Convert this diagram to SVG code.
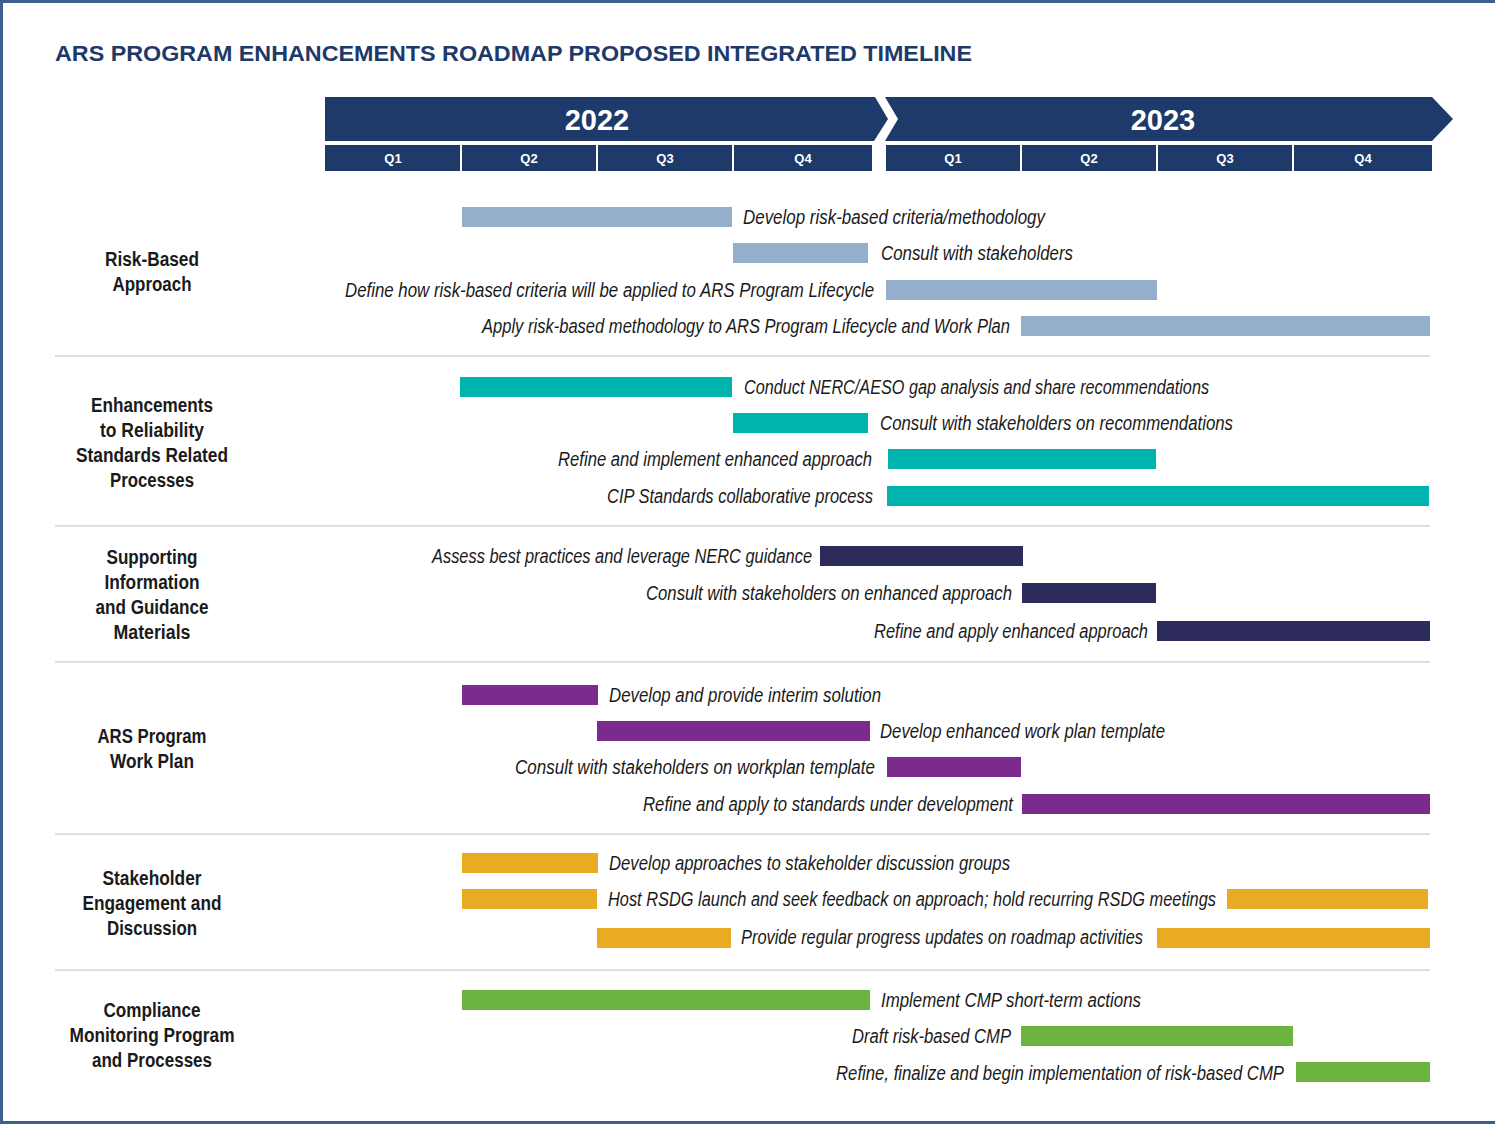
<svg xmlns="http://www.w3.org/2000/svg" width="1495" height="1125" viewBox="0 0 1495 1125">
<style>
.title{font-family:"Liberation Sans",Arial,sans-serif;font-weight:bold;font-size:22px;fill:#1D3A6B}
.yr{font-family:"Liberation Sans",Arial,sans-serif;font-weight:bold;font-size:29px;fill:#fff;text-anchor:middle}
.q{font-family:"Liberation Sans",Arial,sans-serif;font-weight:bold;font-size:13px;fill:#fff;text-anchor:middle}
.hd{fill:#1D3A6B}
.cat{font-family:"Liberation Sans",Arial,sans-serif;font-weight:bold;font-size:20px;fill:#1a1a1a;text-anchor:middle}
.lb{font-family:"Liberation Sans",Arial,sans-serif;font-style:italic;font-size:20px;fill:#1a1a1a}
.e{text-anchor:end}
.sep{stroke:#bdbdbd;stroke-width:1.2}
.c1{fill:#93AFCB}.c2{fill:#00B3AC}.c3{fill:#2D2A5C}.c4{fill:#7A2B8B}.c5{fill:#E9AB23}.c6{fill:#6CB43F}
</style>
<rect x="1.5" y="1.5" width="1500" height="1121" fill="#fff" stroke="#3B5F8F" stroke-width="3"/>
<text class="title" x="55" y="61" textLength="917" lengthAdjust="spacingAndGlyphs">ARS PROGRAM ENHANCEMENTS ROADMAP PROPOSED INTEGRATED TIMELINE</text>

<g id="header">
<polygon class="hd" points="325,97 875,97 888,119 874,141 325,141"/>
<polygon class="hd" points="885,97 1432,97 1453,119 1432,141 885,141 898,119"/>
<text class="yr" x="597" y="130">2022</text>
<text class="yr" x="1163" y="130">2023</text>
<rect class="hd" x="325" y="145" width="135" height="26"/>
<rect class="hd" x="462" y="145" width="134" height="26"/>
<rect class="hd" x="598" y="145" width="134" height="26"/>
<rect class="hd" x="734" y="145" width="138" height="26"/>
<rect class="hd" x="886" y="145" width="134" height="26"/>
<rect class="hd" x="1022" y="145" width="134" height="26"/>
<rect class="hd" x="1158" y="145" width="134" height="26"/>
<rect class="hd" x="1294" y="145" width="138" height="26"/>
<text class="q" x="393" y="163">Q1</text>
<text class="q" x="529" y="163">Q2</text>
<text class="q" x="665" y="163">Q3</text>
<text class="q" x="803" y="163">Q4</text>
<text class="q" x="953" y="163">Q1</text>
<text class="q" x="1089" y="163">Q2</text>
<text class="q" x="1225" y="163">Q3</text>
<text class="q" x="1363" y="163">Q4</text>
</g>

<g id="separators">
<line class="sep" x1="55" y1="356" x2="1430" y2="356"/>
<line class="sep" x1="55" y1="526" x2="1430" y2="526"/>
<line class="sep" x1="55" y1="662" x2="1430" y2="662"/>
<line class="sep" x1="55" y1="834" x2="1430" y2="834"/>
<line class="sep" x1="55" y1="970" x2="1430" y2="970"/>
</g>

<g id="risk-based">
<text class="cat" x="152" y="266" textLength="94" lengthAdjust="spacingAndGlyphs">Risk-Based</text>
<text class="cat" x="152" y="291" textLength="79" lengthAdjust="spacingAndGlyphs">Approach</text>
<rect class="c1" x="462" y="207" width="270" height="20"/>
<text class="lb" x="743" y="224" textLength="302" lengthAdjust="spacingAndGlyphs">Develop risk-based criteria/methodology</text>
<rect class="c1" x="733" y="243" width="135" height="20"/>
<text class="lb" x="881" y="260" textLength="192" lengthAdjust="spacingAndGlyphs">Consult with stakeholders</text>
<rect class="c1" x="886" y="280" width="271" height="20"/>
<text class="lb e" x="874" y="297" textLength="529" lengthAdjust="spacingAndGlyphs">Define how risk-based criteria will be applied to ARS Program Lifecycle</text>
<rect class="c1" x="1021" y="316" width="409" height="20"/>
<text class="lb e" x="1010" y="333" textLength="528" lengthAdjust="spacingAndGlyphs">Apply risk-based methodology to ARS Program Lifecycle and Work Plan</text>
</g>

<g id="reliability-standards">
<text class="cat" x="152" y="412" textLength="122" lengthAdjust="spacingAndGlyphs">Enhancements</text>
<text class="cat" x="152" y="437" textLength="104" lengthAdjust="spacingAndGlyphs">to Reliability</text>
<text class="cat" x="152" y="462" textLength="152" lengthAdjust="spacingAndGlyphs">Standards Related</text>
<text class="cat" x="152" y="487" textLength="84" lengthAdjust="spacingAndGlyphs">Processes</text>
<rect class="c2" x="460" y="377" width="272" height="20"/>
<text class="lb" x="744" y="394" textLength="465" lengthAdjust="spacingAndGlyphs">Conduct NERC/AESO gap analysis and share recommendations</text>
<rect class="c2" x="733" y="413" width="135" height="20"/>
<text class="lb" x="880" y="430" textLength="353" lengthAdjust="spacingAndGlyphs">Consult with stakeholders on recommendations</text>
<rect class="c2" x="888" y="449" width="268" height="20"/>
<text class="lb e" x="872" y="466" textLength="314" lengthAdjust="spacingAndGlyphs">Refine and implement enhanced approach</text>
<rect class="c2" x="887" y="486" width="542" height="20"/>
<text class="lb e" x="873" y="503" textLength="266" lengthAdjust="spacingAndGlyphs">CIP Standards collaborative process</text>
</g>

<g id="supporting-information">
<text class="cat" x="152" y="564" textLength="91" lengthAdjust="spacingAndGlyphs">Supporting</text>
<text class="cat" x="152" y="589" textLength="95" lengthAdjust="spacingAndGlyphs">Information</text>
<text class="cat" x="152" y="614" textLength="113" lengthAdjust="spacingAndGlyphs">and Guidance</text>
<text class="cat" x="152" y="639" textLength="77" lengthAdjust="spacingAndGlyphs">Materials</text>
<rect class="c3" x="820" y="546" width="203" height="20"/>
<text class="lb e" x="812" y="563" textLength="380" lengthAdjust="spacingAndGlyphs">Assess best practices and leverage NERC guidance</text>
<rect class="c3" x="1022" y="583" width="134" height="20"/>
<text class="lb e" x="1012" y="600" textLength="366" lengthAdjust="spacingAndGlyphs">Consult with stakeholders on enhanced approach</text>
<rect class="c3" x="1157" y="621" width="273" height="20"/>
<text class="lb e" x="1148" y="638" textLength="274" lengthAdjust="spacingAndGlyphs">Refine and apply enhanced approach</text>
</g>

<g id="work-plan">
<text class="cat" x="152" y="743" textLength="109" lengthAdjust="spacingAndGlyphs">ARS Program</text>
<text class="cat" x="152" y="768" textLength="84" lengthAdjust="spacingAndGlyphs">Work Plan</text>
<rect class="c4" x="462" y="685" width="136" height="20"/>
<text class="lb" x="609" y="702" textLength="272" lengthAdjust="spacingAndGlyphs">Develop and provide interim solution</text>
<rect class="c4" x="597" y="721" width="273" height="20"/>
<text class="lb" x="880" y="738" textLength="285" lengthAdjust="spacingAndGlyphs">Develop enhanced work plan template</text>
<rect class="c4" x="887" y="757" width="134" height="20"/>
<text class="lb e" x="875" y="774" textLength="360" lengthAdjust="spacingAndGlyphs">Consult with stakeholders on workplan template</text>
<rect class="c4" x="1022" y="794" width="408" height="20"/>
<text class="lb e" x="1013" y="811" textLength="370" lengthAdjust="spacingAndGlyphs">Refine and apply to standards under development</text>
</g>

<g id="stakeholder-engagement">
<text class="cat" x="152" y="885" textLength="99" lengthAdjust="spacingAndGlyphs">Stakeholder</text>
<text class="cat" x="152" y="910" textLength="139" lengthAdjust="spacingAndGlyphs">Engagement and</text>
<text class="cat" x="152" y="935" textLength="90" lengthAdjust="spacingAndGlyphs">Discussion</text>
<rect class="c5" x="462" y="853" width="136" height="20"/>
<text class="lb" x="609" y="870" textLength="401" lengthAdjust="spacingAndGlyphs">Develop approaches to stakeholder discussion groups</text>
<rect class="c5" x="462" y="889" width="135" height="20"/>
<rect class="c5" x="1227" y="889" width="201" height="20"/>
<text class="lb" x="608" y="906" textLength="608" lengthAdjust="spacingAndGlyphs">Host RSDG launch and seek feedback on approach; hold recurring RSDG meetings</text>
<rect class="c5" x="597" y="928" width="134" height="20"/>
<rect class="c5" x="1157" y="928" width="273" height="20"/>
<text class="lb" x="741" y="944" textLength="402" lengthAdjust="spacingAndGlyphs">Provide regular progress updates on roadmap activities</text>
</g>

<g id="compliance-monitoring">
<text class="cat" x="152" y="1017" textLength="97" lengthAdjust="spacingAndGlyphs">Compliance</text>
<text class="cat" x="152" y="1042" textLength="165" lengthAdjust="spacingAndGlyphs">Monitoring Program</text>
<text class="cat" x="152" y="1067" textLength="120" lengthAdjust="spacingAndGlyphs">and Processes</text>
<rect class="c6" x="462" y="990" width="408" height="20"/>
<text class="lb" x="881" y="1007" textLength="260" lengthAdjust="spacingAndGlyphs">Implement CMP short-term actions</text>
<rect class="c6" x="1021" y="1026" width="272" height="20"/>
<text class="lb e" x="1011" y="1043" textLength="159" lengthAdjust="spacingAndGlyphs">Draft risk-based CMP</text>
<rect class="c6" x="1296" y="1062" width="134" height="20"/>
<text class="lb e" x="1284" y="1080" textLength="448" lengthAdjust="spacingAndGlyphs">Refine, finalize and begin implementation of risk-based CMP</text>
</g>
</svg>
